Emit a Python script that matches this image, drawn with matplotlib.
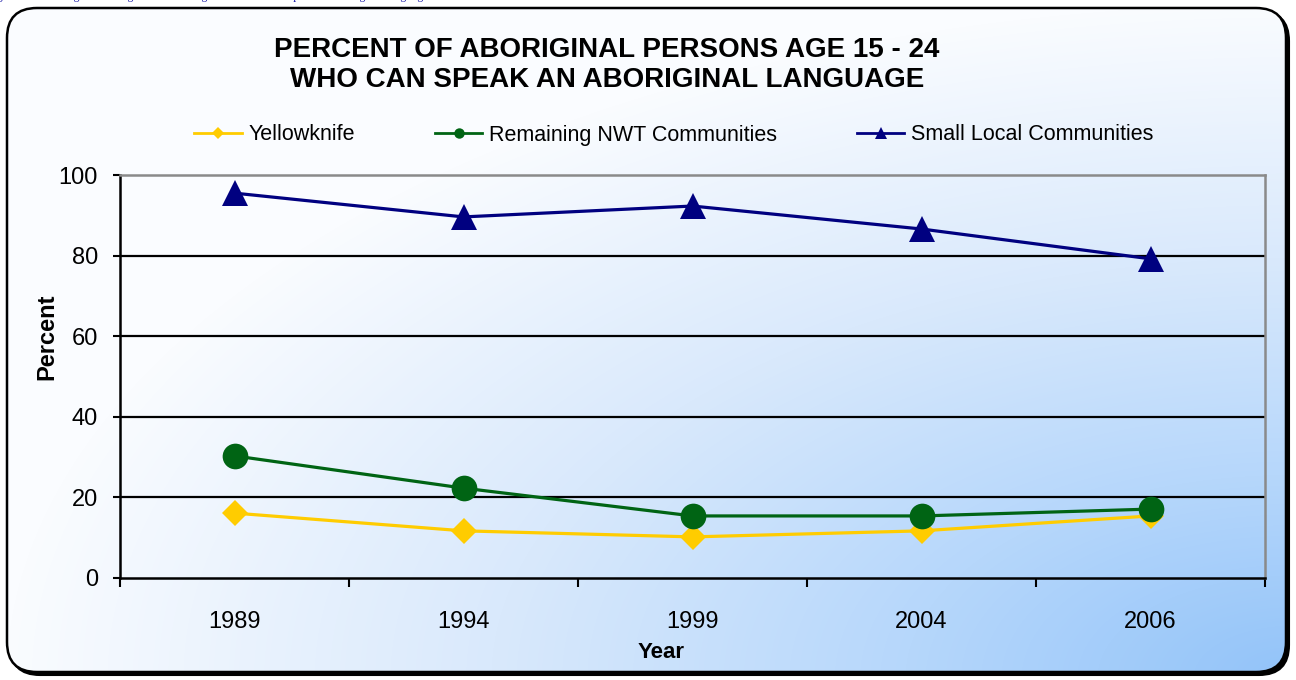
import numpy as np
import matplotlib
matplotlib.use("Agg")
import matplotlib.pyplot as plt
from matplotlib.patches import FancyBboxPatch
from matplotlib.lines import Line2D
from matplotlib.colors import LinearSegmentedColormap

plt.rcParams['font.family'] = ['Liberation Sans', 'DejaVu Sans']

# ---- data ----
years = ["1989", "1994", "1999", "2004", "2006"]
yellowknife = [16.1, 11.7, 10.2, 11.7, 15.4]
remaining_nwt = [30.3, 22.3, 15.4, 15.4, 17.1]
small_local = [95.5, 89.6, 92.3, 86.6, 79.2]
series_names = ["Yellowknife", "Remaining NWT Communities", "Small Local Communities"]
y_ticks = [0, 20, 40, 60, 80, 100]
title = "PERCENT OF ABORIGINAL PERSONS AGE 15 - 24\nWHO CAN SPEAK AN ABORIGINAL LANGUAGE"
caption = "Figure 4: Percentage of Aboriginal Persons Age 15-24 who can speak an Aboriginal language"

W, H = 1296, 680
fig = plt.figure(figsize=(W / 100, H / 100), dpi=100)
fig.patch.set_facecolor('white')

# ---- background axes (frame + gradient) ----
bg = fig.add_axes([0, 0, 1, 1])
bg.set_xlim(0, W)
bg.set_ylim(H, 0)
bg.axis('off')

shadow = FancyBboxPatch((10, 11), W - 17, H - 16,
                        boxstyle="round,pad=0,rounding_size=30",
                        facecolor='black', edgecolor='black', lw=1.5, zorder=1)
bg.add_patch(shadow)
frame = FancyBboxPatch((7, 8), W - 17, H - 16,
                       boxstyle="round,pad=0,rounding_size=30",
                       facecolor='none', edgecolor='black', lw=1.8, zorder=3)
bg.add_patch(frame)

xx, yy = np.meshgrid(np.linspace(0, W, 400), np.linspace(0, H, 220))
d = np.sqrt(((W - xx) / W) ** 2 + ((H - yy) / H) ** 2)
cmap = LinearSegmentedColormap.from_list(
    'g', [(0.0, '#92c3f9'), (0.3, '#b6d7fb'), (0.62, '#d9e9fc'), (1.0, '#fafcff')])
img = bg.imshow(np.clip(d, 0, 1), cmap=cmap, vmin=0, vmax=1,
                extent=(0, W, H, 0), aspect='auto', zorder=2, interpolation='bilinear')
clip = FancyBboxPatch((7, 8), W - 17, H - 16,
                      boxstyle="round,pad=0,rounding_size=30",
                      facecolor='none', edgecolor='none', transform=bg.transData)
bg.add_patch(clip)
img.set_clip_path(clip)

# caption fragment at the very top (only descenders show, as in the source)
fig.text(428 / W, 1.0 + 0.5 / H, caption, ha='right', va='baseline', fontsize=8.5,
         family=['Liberation Serif', 'DejaVu Serif'], color='#1c1ca8', zorder=4)

# ---- main axes ----
ax = fig.add_axes([120 / W, 1 - 578 / H, (1265 - 120) / W, (578 - 175) / H])
ax.patch.set_alpha(0)
x = np.arange(len(years))

ax.plot(x, yellowknife, color='#ffcc00', lw=2.3, marker='D', ms=13,
        markeredgewidth=0, zorder=3)
ax.plot(x, remaining_nwt, color='#006414', lw=2.3, marker='o', ms=18.5,
        markeredgewidth=0, zorder=4)
ax.plot(x, small_local, color='#000080', lw=2.3, marker='^', ms=19,
        markeredgewidth=0, zorder=5)

ax.set_xlim(-0.5, len(years) - 0.5)
ax.set_ylim(0, 100)
ax.set_yticks(y_ticks)
ax.set_yticklabels([str(v) for v in y_ticks], fontsize=17)
for v in y_ticks[1:-1]:
    ax.axhline(v, color='black', lw=1.6, zorder=1)

ax.set_xticks(np.arange(-0.5, len(years), 1.0))
ax.set_xticklabels([])
ax.set_xticks(x, minor=True)
ax.set_xticklabels(years, minor=True, fontsize=17)
ax.tick_params(axis='x', which='major', direction='out', length=6.5, width=1.5, color='black')
ax.tick_params(axis='x', which='minor', length=0, pad=24)
ax.tick_params(axis='y', direction='out', length=5, width=1.5, color='black', pad=11)

for s in ['left', 'bottom']:
    ax.spines[s].set_color('black')
    ax.spines[s].set_linewidth(1.8)
for s in ['top', 'right']:
    ax.spines[s].set_color('#8a8a8a')
    ax.spines[s].set_linewidth(1.8)

fig.text(47 / W, 1 - 337 / H, "Percent", rotation=90, ha='center', va='center',
         fontsize=17, fontweight='bold')
fig.text(661 / W, 1 - 653 / H, "Year", ha='center', va='center',
         fontsize=16, fontweight='bold')
fig.text(607 / W, 1 - 65 / H, title, ha='center', va='center', fontsize=20,
         fontweight='bold', linespacing=1.22)

handles = [
    Line2D([], [], color='#ffcc00', lw=2, marker='D', ms=6, markeredgewidth=0),
    Line2D([], [], color='#006414', lw=2, marker='o', ms=7.5, markeredgewidth=0),
    Line2D([], [], color='#000080', lw=2, marker='^', ms=8.5, markeredgewidth=0),
]
fig.legend(handles, series_names, loc='center', bbox_to_anchor=(674 / W, 1 - 135 / H),
           ncol=3, frameon=False, fontsize=15.5, handlelength=2.2, handletextpad=0.33,
           columnspacing=3.7, borderpad=0, borderaxespad=0)

fig.savefig('out.png', dpi=100)
